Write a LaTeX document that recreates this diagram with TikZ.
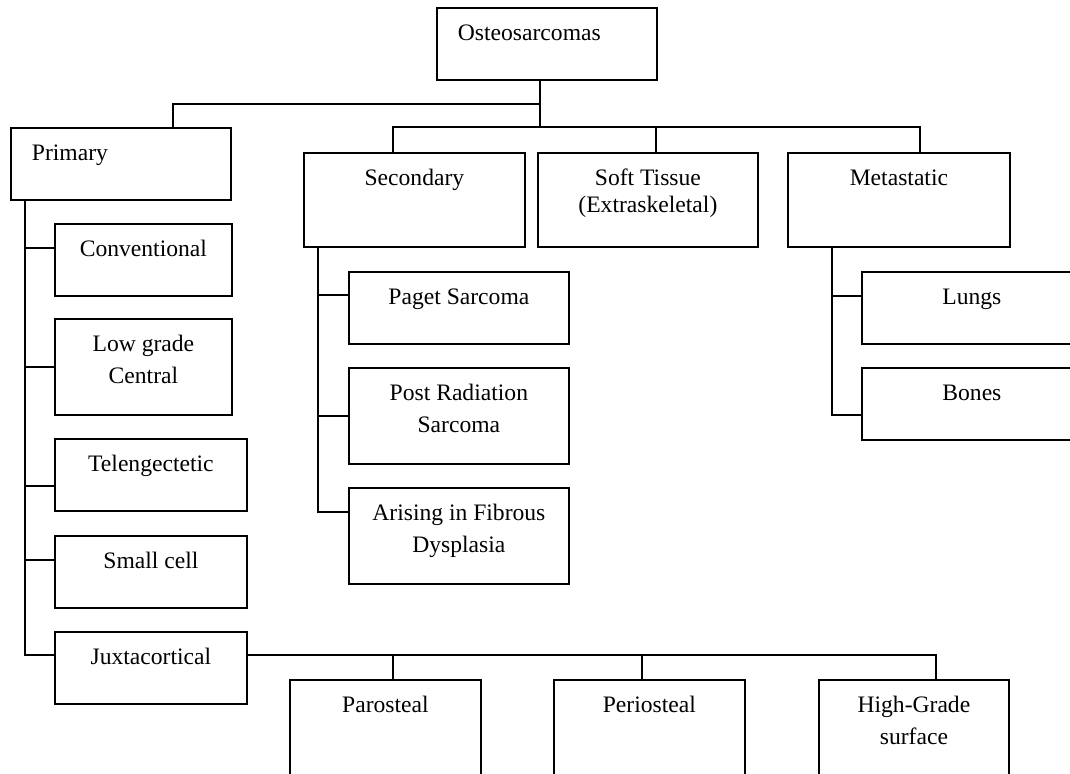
\documentclass[tikz,border=0pt]{standalone}
\usepackage{fontspec}
\setmainfont{Liberation Serif}
\usetikzlibrary{positioning,calc}

\begin{document}
\begin{tikzpicture}[
    x=0.5pt, y=-0.5pt,
    box/.style={draw=black, line width=0.9pt, anchor=north west, inner xsep=0pt, inner ysep=0pt,
      text height=16.25pt, align=flush center, font=\fontsize{11.8pt}{15.85pt}\selectfont},
    shortBox/.style={box, text depth=19.75pt},
    midBox/.style={box, text depth=30.75pt},
    tallBox/.style={box, text depth=31.75pt},
    deepBox/.style={box, text depth=43.75pt},
    leftText/.style={align=flush left, inner xsep=10.5pt},
    link/.style={line width=0.8pt, draw=black}
]
\useasboundingbox (0,0) rectangle (1070,773);

% top levels
\node[shortBox, leftText, text width=89pt] (osteo) at (436,7) {Osteosarcomas};
\node[shortBox, leftText, text width=89pt] (primary) at (10,127) {Primary};
\node[midBox, text width=110.5pt] (secondary) at (303,152) {Secondary};
\node[midBox, text width=110pt, font=\fontsize{11.8pt}{13.5pt}\selectfont] (soft) at (537,152) {Soft Tissue\\(Extraskeletal)};
\node[midBox, text width=111pt] (metastatic) at (787,152) {Metastatic};

% primary subtypes
\node[shortBox, text width=88.5pt] (conv) at (54,223) {Conventional};
\node[tallBox, text width=88.5pt] (lowgrade) at (54,318) {Low grade\\Central};
\node[shortBox, text width=96pt] (telen) at (54,438) {Telengectetic};
\node[shortBox, text width=96pt] (smallcell) at (54,535) {Small cell};
\node[shortBox, text width=96pt] (juxta) at (54,631) {Juxtacortical};

% secondary subtypes
\node[shortBox, text width=110pt] (paget) at (348,271) {Paget Sarcoma};
\node[tallBox, text width=110pt] (postrad) at (348,367) {Post Radiation\\Sarcoma};
\node[tallBox, text width=110pt] (fibrous) at (348,487) {Arising in Fibrous\\Dysplasia};

% metastatic sites
\node[shortBox, text width=110pt] (lungs) at (861,271) {Lungs};
\node[shortBox, text width=110pt] (bones) at (861,367) {Bones};

% juxtacortical subtypes
\node[deepBox, text width=95.5pt] (parosteal) at (289,679) {Parosteal};
\node[deepBox, text width=95.5pt] (periosteal) at (553,679) {Periosteal};
\node[deepBox, text width=95pt] (highgrade) at (818,679) {High-Grade\\surface};

% drop points
\coordinate (rootStem) at ([xshift=-3.5pt]osteo.south);
\coordinate (pDrop) at ([xshift=26pt]primary.north);
\coordinate (sDrop) at ([xshift=-10.75pt]secondary.north);
\coordinate (tDrop) at ([xshift=4pt]soft.north);
\coordinate (mDrop) at ([xshift=10.5pt]metastatic.north);
\coordinate (rootBus) at (rootStem |- primary.north);
\coordinate (rootSplit) at ($(rootStem)!0.5!(rootBus)$);

\draw[link] (rootStem) -- (rootBus);
\draw[link] (rootSplit) -| (pDrop);
\draw[link] (sDrop) |- (rootBus) -| (mDrop);
\draw[link] (tDrop) -- (tDrop |- rootBus);

% primary tree
\coordinate (pSpine) at ([xshift=7.5pt]primary.south west);
\foreach \n/\s in {conv/6, lowgrade/0, telen/-5.5, smallcell/6, juxta/6.5}
  \coordinate (in\n) at ([yshift=\s pt]\n.west);
\draw[link] (pSpine) |- (injuxta);
\foreach \n in {conv, lowgrade, telen, smallcell}
  \draw[link] (in\n) -- (in\n -| pSpine);

% secondary tree
\coordinate (sSpine) at ([xshift=7.5pt]secondary.south west);
\foreach \n/\s in {paget/6.5, postrad/0, fibrous/12}
  \coordinate (in\n) at ([yshift=\s pt]\n.west);
\draw[link] (sSpine) |- (infibrous);
\foreach \n in {paget, postrad}
  \draw[link] (in\n) -- (in\n -| sSpine);

% metastatic tree
\coordinate (mSpine) at ([xshift=22.5pt]metastatic.south west);
\foreach \n/\s in {lungs/6, bones/-5.5}
  \coordinate (in\n) at ([yshift=\s pt]\n.west);
\draw[link] (mSpine) |- (inbones);
\draw[link] (inlungs) -- (inlungs -| mSpine);

% juxtacortical tree
\coordinate (outjuxta) at ([yshift=6.5pt]juxta.east);
\coordinate (paDrop) at ([xshift=3.75pt]parosteal.north);
\coordinate (peDrop) at ([xshift=-3.75pt]periosteal.north);
\coordinate (hgDrop) at ([xshift=11pt]highgrade.north);
\draw[link] (outjuxta) -| (hgDrop);
\draw[link] (paDrop) -- (paDrop |- outjuxta);
\draw[link] (peDrop) -- (peDrop |- outjuxta);
\end{tikzpicture}
\end{document}
